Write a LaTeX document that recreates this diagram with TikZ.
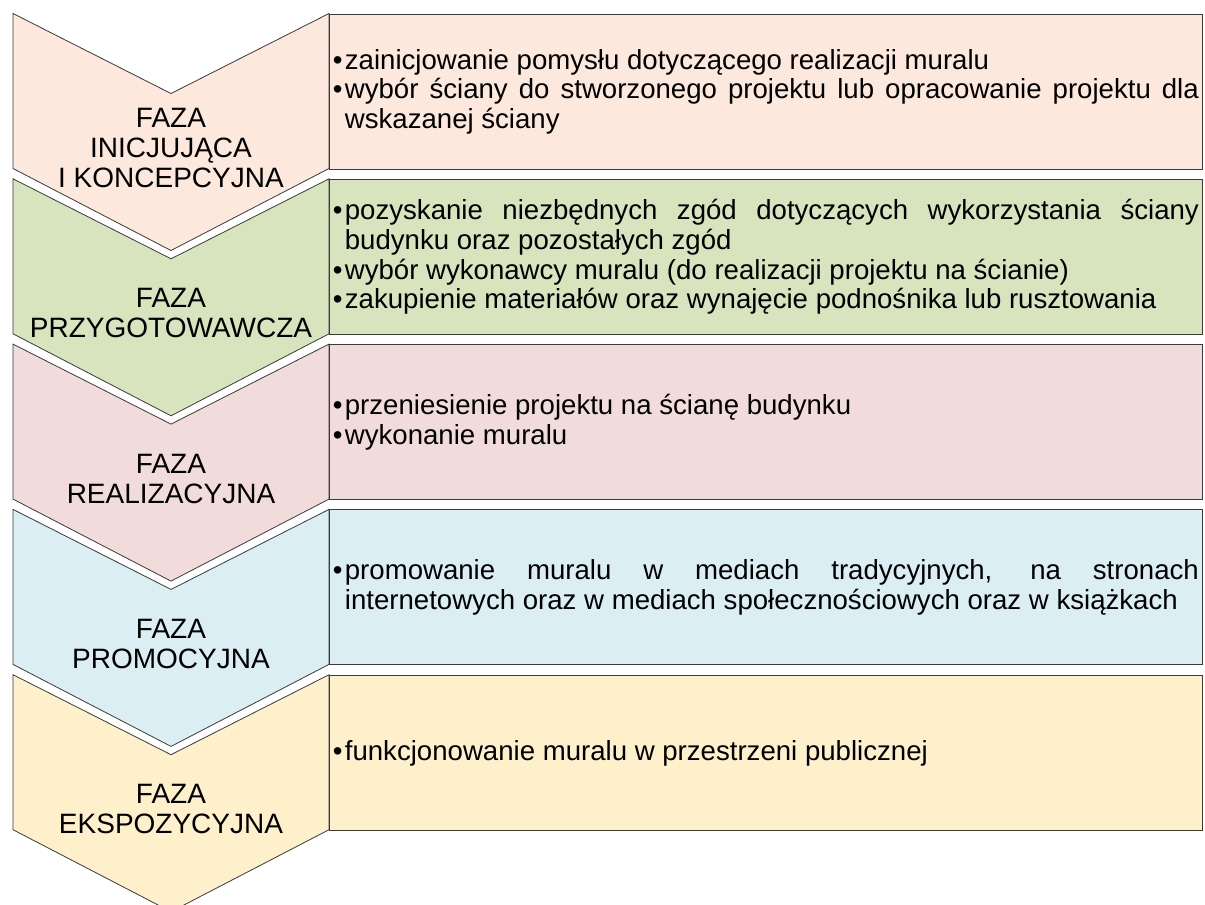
\documentclass[tikz,border=0pt]{standalone}
\usepackage{fontspec}
\setmainfont{Liberation Sans}
\hyphenpenalty=10000
\exhyphenpenalty=10000
\tolerance=9999
\emergencystretch=3em
\hfuzz=4pt

\definecolor{edge}{HTML}{3A3A3A}
\definecolor{phA}{HTML}{FCE8DC}
\definecolor{phB}{HTML}{D7E4BD}
\definecolor{phC}{HTML}{F2DCDB}
\definecolor{phD}{HTML}{DBEEF4}
\definecolor{phE}{HTML}{FEF0CB}

\newcommand\bodyfont{\fontsize{28}{30}\selectfont}
\newcommand\listfont{\fontsize{27.6}{29.8}\selectfont}
% one bullet item with hanging indent
\newcommand\pkt[1]{\par\hangindent=12pt\hangafter=1\noindent\makebox[12pt][l]{\textbullet}#1\par}
% extra room under the items keeps them optically centred in the box
\newcommand\lift{\par\kern 9pt}

\tikzset{
  chev/.style={draw=edge, line width=0.8pt, line join=miter},
  phase/.style={align=center, font=\bodyfont, inner sep=0pt},
  info/.style={draw=edge, line width=0.8pt, anchor=north west,
    minimum width=873pt, minimum height=155pt, text width=866pt,
    align=justify, inner xsep=3.5pt, inner ysep=0pt, font=\listfont},
}

\begin{document}
\begin{tikzpicture}[x=1pt, y=-1pt]
\useasboundingbox (0,0) rectangle (1205,905);
\begin{scope}
\clip (0,0) rectangle (1205,905);

% chevron arrows of the five phases
\foreach \T/\col in {13.5/phA, 178.8/phB, 344.1/phC, 509.4/phD, 674.7/phE}{
  \draw[chev, fill=\col] (13,\T) -- (171,{\T+80}) -- (329,\T) -- (329,{\T+155})
    -- (171,{\T+237}) -- (13,{\T+155}) -- cycle;
}

% phase names
\node[phase] (faza1) at (171,148) {FAZA\\INICJUJĄCA\\I KONCEPCYJNA};
\node[phase] (faza2) at (171,313.3) {FAZA\\PRZYGOTOWAWCZA};
\node[phase] (faza3) at (171,478.6) {FAZA\\REALIZACYJNA};
\node[phase] (faza4) at (171,643.9) {FAZA\\PROMOCYJNA};
\node[phase] (faza5) at (171,809.2) {FAZA\\EKSPOZYCYJNA};

% description boxes
\node[info, fill=phA] (opis1) at (329,13.5) {%
  \pkt{zainicjowanie pomysłu dotyczącego realizacji muralu}%
  \pkt{wybór ściany do stworzonego projektu lub opracowanie projektu dla\linebreak wskazanej ściany}\lift};
\node[info, fill=phB] (opis2) at (329,178.8) {%
  \pkt{pozyskanie niezbędnych zgód dotyczących wykorzystania ściany\linebreak budynku oraz pozostałych zgód}%
  \pkt{wybór wykonawcy muralu (do realizacji projektu na ścianie)}%
  \pkt{zakupienie materiałów oraz wynajęcie podnośnika lub rusztowania}\lift};
\node[info, fill=phC] (opis3) at (329,344.1) {%
  \pkt{przeniesienie projektu na ścianę budynku}%
  \pkt{wykonanie muralu}\lift};
\node[info, fill=phD] (opis4) at (329,509.4) {%
  \pkt{promowanie muralu w mediach tradycyjnych, na stronach\linebreak internetowych oraz w mediach społecznościowych oraz w książkach}\lift};
\node[info, fill=phE] (opis5) at (329,674.7) {%
  \pkt{funkcjonowanie muralu w przestrzeni publicznej}\lift};
\end{scope}
\end{tikzpicture}
\end{document}
